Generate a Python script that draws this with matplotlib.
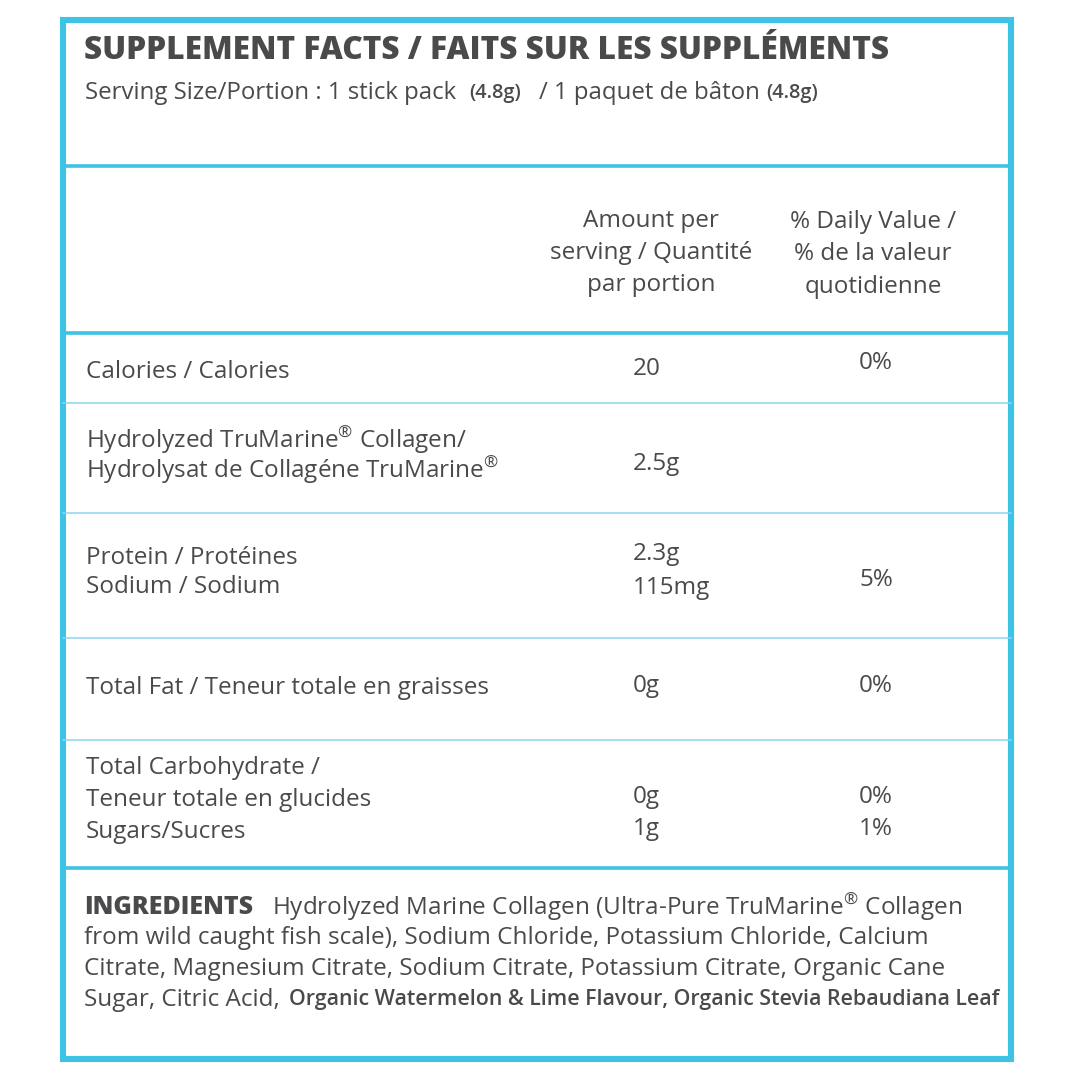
import matplotlib.pyplot as plt
from matplotlib.patches import Rectangle

plt.rcParams['font.family'] = ['Open Sans', 'DejaVu Sans']
plt.rcParams['mathtext.fontset'] = 'custom'
plt.rcParams['mathtext.rm'] = 'Open Sans'

# data
title = "SUPPLEMENT FACTS / FAITS SUR LES SUPPLÉMENTS"
serving_parts = ["Serving Size/Portion : 1 stick pack", "(4.8g)", "/ 1 paquet de bâton", "(4.8g)"]
serving_x = [85, 469, 539, 766]
head_amount = ["Amount per", "serving / Quantité", "par portion"]
head_dv = ["% Daily Value /", "% de la valeur", "quotidienne"]

R = r"$^{\mathrm{®}}$"
labels = [["Calories / Calories"],
          ["Hydrolyzed TruMarine" + R + " Collagen/", "Hydrolysat de Collagéne TruMarine" + R],
          ["Protein / Protéines", "Sodium / Sodium"],
          ["Total Fat / Teneur totale en graisses"],
          ["Total Carbohydrate /", "Teneur totale en glucides", "Sugars/Sucres"]]
label_y = [[372], [440, 470], [558, 587], [688], [768, 800, 832]]
amounts = [["20"], ["2.5g"], ["2.3g", "115mg"], ["0g"], ["0g", "1g"]]
amount_y = [[369], [464], [554, 588], [686], [797, 829]]
dvs = [["0%"], [], ["5%"], ["0%"], ["0%", "1%"]]
dv_y = [[363], [], [580], [686], [797, 829]]

ingr_head = "INGREDIENTS"
ingr_lines = ["Hydrolyzed Marine Collagen (Ultra-Pure TruMarine" + R + " Collagen",
              "from wild caught fish scale), Sodium Chloride, Potassium Chloride, Calcium",
              "Citrate, Magnesium Citrate, Sodium Citrate, Potassium Citrate, Organic Cane",
              "Sugar, Citric Acid,"]
ingr_tail = "Organic Watermelon & Lime Flavour, Organic Stevia Rebaudiana Leaf"

thick_rules = [166, 333, 868]
thin_rules = [403, 513, 638, 740]

cyan = '#3ec3e6'
light = '#8ad6ef'
ink = '#4a4a4c'
fs = 17.5

fig = plt.figure(figsize=(10.8, 10.8), dpi=100)
ax = fig.add_axes([0, 0, 1, 1])
ax.set_xlim(0, 1080)
ax.set_ylim(1080, 0)
ax.axis('off')

ax.add_patch(Rectangle((63, 20), 948, 1039, fill=False, ec=cyan, lw=4.4))
for y in thick_rules:
    ax.plot([63, 1011], [y, y], color=cyan, lw=2.6)
for y in thin_rules:
    ax.plot([63, 1011], [y, y], color=light, lw=1.1)

ax.text(84, 51, title, fontsize=22.8, fontweight='heavy', color=ink, va='center')
for t, x in zip(serving_parts, serving_x):
    small = t.startswith('(')
    ax.text(x, 93, t, fontsize=14.3 if small else 17.3, color=ink, va='center',
            fontweight='semibold' if small else 'normal')

for i, t in enumerate(head_amount):
    ax.text(651, 221 + 32 * i, t, fontsize=fs, color=ink, ha='center', va='center')
for i, t in enumerate(head_dv):
    ax.text(873, 222 + 32.5 * i, t, fontsize=fs, color=ink, ha='center', va='center')

for grp, ys in zip(labels, label_y):
    for t, y in zip(grp, ys):
        ax.text(86, y, t, fontsize=fs, color=ink, va='center')
for grp, ys in zip(amounts, amount_y):
    for t, y in zip(grp, ys):
        ax.text(633, y, t, fontsize=fs, color=ink, va='center')
for grp, ys in zip(dvs, dv_y):
    for t, y in zip(grp, ys):
        ax.text(876, y, t, fontsize=fs, color=ink, ha='center', va='center')

ax.text(84, 907, ingr_head, fontsize=18, fontweight='heavy', color=ink, va='center')
for i, t in enumerate(ingr_lines):
    x = 272 if i == 0 else 84
    ax.text(x, 907 + 31 * i, t, fontsize=fs, color=ink, va='center')
ax.text(289, 1000, ingr_tail, fontsize=15.4, fontweight='semibold', color=ink, va='center')

fig.savefig('out.png', dpi=100, facecolor='white')
